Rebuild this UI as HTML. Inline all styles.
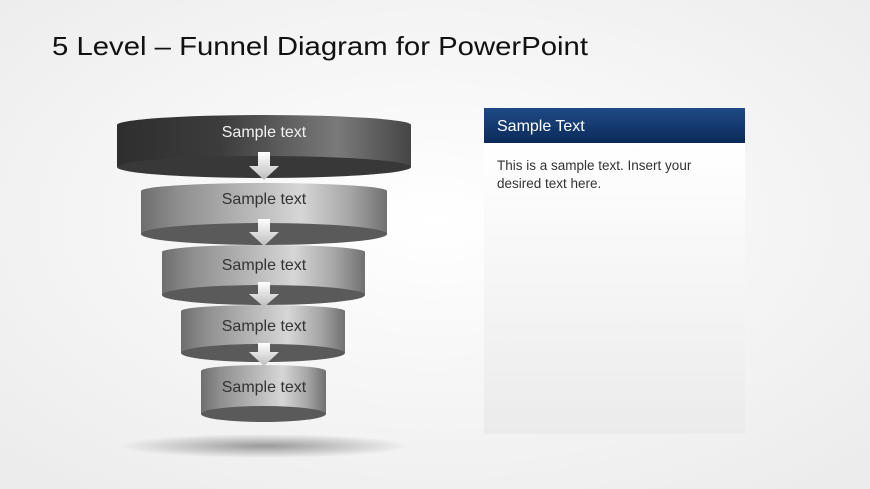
<!DOCTYPE html>
<html><head><meta charset="utf-8"><style>
html,body{margin:0;padding:0;background:#f4f4f4;}
svg{display:block;font-family:"Liberation Sans",sans-serif;}
</style></head><body>
<svg width="870" height="489" viewBox="0 0 870 489" xmlns="http://www.w3.org/2000/svg">
<defs>
<radialGradient id="bg" cx="0.5" cy="0.45" r="0.7"><stop offset="0" stop-color="#ffffff"/><stop offset="1" stop-color="#ececec"/></radialGradient>
<linearGradient id="dark" x1="0" x2="1"><stop offset="0" stop-color="#2e2e2e"/><stop offset="0.35" stop-color="#3c3c3c"/><stop offset="0.75" stop-color="#7a7a7a"/><stop offset="1" stop-color="#454545"/></linearGradient>
<linearGradient id="lite" x1="0" x2="1"><stop offset="0" stop-color="#6e6e6e"/><stop offset="0.15" stop-color="#8e8e8e"/><stop offset="0.65" stop-color="#d6d6d6"/><stop offset="0.85" stop-color="#a6a6a6"/><stop offset="1" stop-color="#707070"/></linearGradient>
<linearGradient id="arr" x1="0" y1="0" x2="0" y2="1"><stop offset="0" stop-color="#ffffff"/><stop offset="1" stop-color="#bdbdbd"/></linearGradient>
<linearGradient id="hdr" x1="0" y1="0" x2="0" y2="1"><stop offset="0" stop-color="#1f4a86"/><stop offset="1" stop-color="#0b2a5a"/></linearGradient>
<linearGradient id="pan" x1="0" y1="0" x2="0" y2="1"><stop offset="0" stop-color="#ffffff"/><stop offset="1" stop-color="#ebebeb"/></linearGradient>
<radialGradient id="sh" cx="0.5" cy="0.5" r="0.5"><stop offset="0" stop-color="#9a9a9a"/><stop offset="1" stop-color="#9a9a9a" stop-opacity="0"/></radialGradient>
</defs>
<rect width="870" height="489" fill="url(#bg)"/>
<text x="52" y="55" font-size="26" fill="#111" textLength="536" lengthAdjust="spacingAndGlyphs">5 Level – Funnel Diagram for PowerPoint</text>

<ellipse cx="264" cy="446" rx="145" ry="12" fill="url(#sh)"/>

<path d="M117,125 A147,10 0 0 1 411,125 L411,167 L117,167 Z" fill="url(#dark)"/>
<ellipse cx="264" cy="167" rx="147" ry="11" fill="#383838"/>
<path d="M141,191 A123,8 0 0 1 387,191 L387,234 L141,234 Z" fill="url(#lite)"/>
<ellipse cx="264" cy="234" rx="123" ry="11" fill="#5a5a5a"/>
<path d="M162,252 A101.5,7 0 0 1 365,252 L365,295 L162,295 Z" fill="url(#lite)"/>
<ellipse cx="263.5" cy="295" rx="101.5" ry="10" fill="#5a5a5a"/>
<path d="M181,311 A82,6 0 0 1 345,311 L345,353 L181,353 Z" fill="url(#lite)"/>
<ellipse cx="263" cy="353" rx="82" ry="9" fill="#5a5a5a"/>
<path d="M201,371 A62.5,6 0 0 1 326,371 L326,414 L201,414 Z" fill="url(#lite)"/>
<ellipse cx="263.5" cy="414" rx="62.5" ry="8" fill="#5a5a5a"/>

<g fill="url(#arr)">
<path d="M258,152 H270 V166 H279 L264,180 L249,166 H258 Z"/>
<path d="M258,219 H270 V232 H279 L264,246 L249,232 H258 Z"/>
<path d="M258,282 H270 V294 H279 L264,307 L249,294 H258 Z"/>
<path d="M258,343 H270 V352 H279 L264,366 L249,352 H258 Z"/>
</g>

<g font-size="16" text-anchor="middle">
<text x="264" y="137" fill="#f2f2f2">Sample text</text>
<text x="264" y="204" fill="#333">Sample text</text>
<text x="264" y="270" fill="#333">Sample text</text>
<text x="264" y="331" fill="#333">Sample text</text>
<text x="264" y="392" fill="#333">Sample text</text>
</g>

<rect x="484" y="143" width="261" height="291" fill="url(#pan)"/>
<rect x="484" y="108" width="261" height="35" fill="url(#hdr)"/>
<text x="497" y="131" font-size="16" fill="#fff">Sample Text</text>
<text x="497" y="170" font-size="13.5" fill="#333">This is a sample  text. Insert your</text>
<text x="497" y="188" font-size="13.5" fill="#333">desired text here.</text>
</svg>
</body></html>
